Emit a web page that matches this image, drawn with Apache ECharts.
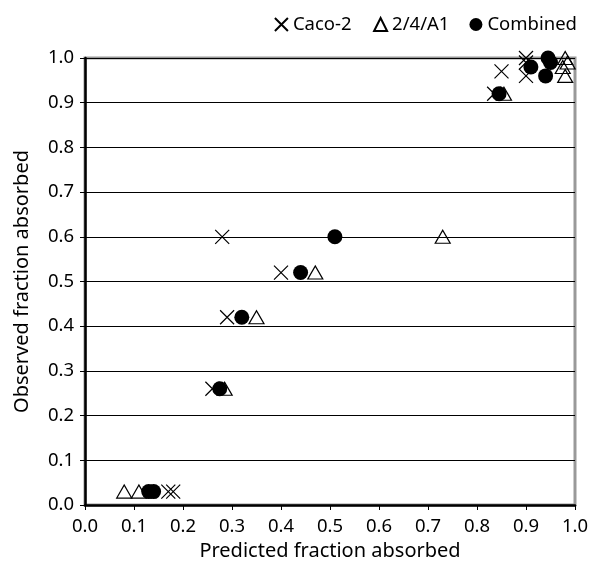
<!DOCTYPE html>
<html>
<head>
<meta charset="utf-8">
<script src="https://cdn.jsdelivr.net/npm/echarts@6/dist/echarts.min.js"></script>
<style>
  html,body{margin:0;padding:0;background:#fff;}
  #main{width:594px;height:561px;}
</style>
</head>
<body>
<div id="main"></div>
<script>
// predicted (x) vs observed (y)
var caco2 = [[0.17,0.03],[0.18,0.03],[0.26,0.26],[0.29,0.42],[0.40,0.52],[0.28,0.60],
             [0.835,0.92],[0.85,0.97],[0.90,0.96],[0.90,0.99],[0.90,1.0]];
var a1 = [[0.08,0.03],[0.11,0.03],[0.285,0.26],[0.35,0.42],[0.47,0.52],[0.73,0.60],
          [0.855,0.92],[0.98,0.96],[0.975,0.98],[0.985,0.99],[0.98,1.0]];
var combined = [[0.13,0.03],[0.14,0.03],[0.275,0.26],[0.32,0.42],[0.44,0.52],[0.51,0.60],
                [0.845,0.92],[0.94,0.96],[0.91,0.98],[0.95,0.99],[0.945,1.0]];

var crossPath = 'path://M0,0L10,10M10,0L0,10';
var font = 'Noto Sans';

var myChart = echarts.init(document.getElementById('main'));

var axisCommon = {
    min: 0, max: 1, interval: 0.1,
    axisLine: {show: true, onZero: false, lineStyle: {color: '#000', width: 2.5}},
    axisTick: {show: true, inside: false, length: 5, lineStyle: {color: '#000', width: 1}},
    axisLabel: {color: '#000', fontSize: 18.5, fontFamily: font,
                formatter: function(v){ return v.toFixed(1); }},
    nameLocation: 'middle',
    nameTextStyle: {color: '#000', fontSize: 20, fontFamily: font}
};

var option = {
    animation: false,
    backgroundColor: '#fff',
    grid: {left: 85, right: 19, top: 58, bottom: 56, show: true,
           outerBoundsMode: 'none', containLabel: false,
           borderColor: '#999', borderWidth: 3, backgroundColor: 'transparent'},
    legend: {
        right: 12, top: 10,
        itemWidth: 13, itemHeight: 13, itemGap: 20,
        textStyle: {color: '#000', fontSize: 18.5, fontFamily: font},
        data: ['Caco-2', '2/4/A1', 'Combined']
    },
    xAxis: Object.assign({}, axisCommon, {
        type: 'value', name: 'Predicted fraction absorbed', nameGap: 35,
        splitLine: {show: false},
        axisLabel: Object.assign({}, axisCommon.axisLabel, {margin: 12})
    }),
    yAxis: Object.assign({}, axisCommon, {
        type: 'value', name: 'Observed fraction absorbed', nameGap: 53,
        splitLine: {show: true, lineStyle: {color: '#000', width: 1}},
        axisLabel: Object.assign({}, axisCommon.axisLabel, {margin: 11})
    }),
    series: [
        {
            name: 'Caco-2', type: 'scatter', data: caco2,
            symbol: crossPath, symbolSize: 14,
            itemStyle: {color: 'none', borderColor: '#000', borderWidth: 1.2, opacity: 1}
        },
        {
            name: '2/4/A1', type: 'scatter', data: a1,
            symbol: 'triangle', symbolSize: [15, 13],
            itemStyle: {color: 'none', borderColor: '#000', borderWidth: 1.2, opacity: 1}
        },
        {
            name: 'Combined', type: 'scatter', data: combined,
            symbol: 'circle', symbolSize: 15,
            itemStyle: {color: '#000', opacity: 1}
        }
    ]
};

myChart.setOption(option);
</script>
</body>
</html>
